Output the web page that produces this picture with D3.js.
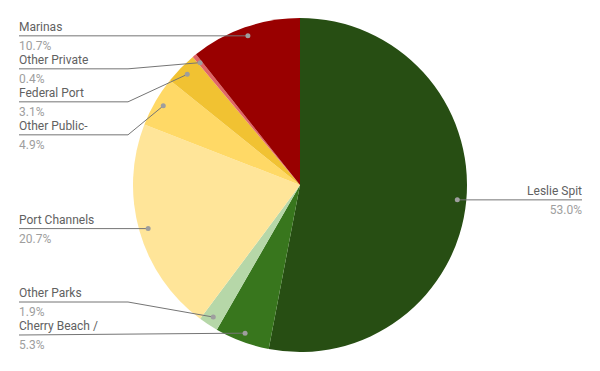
<!DOCTYPE html>
<html>
<head>
<meta charset="utf-8">
<script src="https://cdn.jsdelivr.net/npm/d3@7"></script>
<style>
  body { margin: 0; background: #fff; }
  svg text { font-family: Roboto, "Noto Sans", sans-serif; font-size: 12px; }
  .name { fill: #616161; }
  .pct { fill: #9e9e9e; }
</style>
</head>
<body>
<div id="chart"></div>
<script>
// slice order clockwise from 12 o'clock
const categories = ["Leslie Spit", "Cherry Beach /", "Other Parks", "Port Channels", "Other Public-", "Federal Port", "Other Private", "Marinas"];
const shares = [53.0, 5.3, 1.9, 20.7, 4.9, 3.1, 0.4, 10.7];
const pctLabels = ["53.0%", "5.3%", "1.9%", "20.7%", "4.9%", "3.1%", "0.4%", "10.7%"];
const colors = ["#274e13", "#38761d", "#b6d7a8", "#ffe599", "#ffd966", "#f1c232", "#e06666", "#990000"];

const width = 600, height = 371;
const cx = 300, cy = 185, radius = 167;
const dotRadius = 158;
const labelGap = 33;
const leftX = 19, elbowX = 128, rightX = 582;

const data = categories.map((c, i) => ({ name: c, value: shares[i], pct: pctLabels[i], color: colors[i] }));

const svg = d3.select("#chart").append("svg")
  .attr("width", width)
  .attr("height", height);

const g = svg.append("g").attr("transform", `translate(${cx},${cy})`);

const pie = d3.pie().sort(null).value(d => d.value);
const arcs = pie(data);
const arc = d3.arc().innerRadius(0).outerRadius(radius);

g.selectAll("path.slice")
  .data(arcs)
  .join("path")
  .attr("class", "slice")
  .attr("d", arc)
  .attr("fill", d => d.data.color);

// anchor point for each leader line
arcs.forEach(a => {
  const mid = (a.startAngle + a.endAngle) / 2;
  a.dotX = cx + Math.sin(mid) * dotRadius;
  a.dotY = cy - Math.cos(mid) * dotRadius;
  a.side = mid < Math.PI ? "right" : "left";
  a.lineY = a.dotY;
});

// spread labels on the left so they don't overlap
const left = arcs.filter(a => a.side === "left").sort((a, b) => a.dotY - b.dotY);
for (let i = 1; i < left.length; i++) {
  left[i].lineY = Math.max(left[i].lineY, left[i - 1].lineY + labelGap);
}
const maxY = 335;
for (let i = left.length - 1; i >= 0; i--) {
  const limit = i === left.length - 1 ? maxY : left[i + 1].lineY - labelGap;
  left[i].lineY = Math.min(left[i].lineY, limit);
}

const labels = svg.append("g");

arcs.forEach(a => {
  let pts;
  if (a.side === "left") {
    pts = Math.abs(a.lineY - a.dotY) < 2
      ? [[leftX, a.lineY], [a.dotX, a.dotY]]
      : [[leftX, a.lineY], [elbowX, a.lineY], [a.dotX, a.dotY]];
  } else {
    pts = [[a.dotX, a.dotY], [rightX, a.dotY]];
  }
  labels.append("path")
    .attr("d", d3.line()(pts))
    .attr("fill", "none")
    .attr("stroke", "#757575")
    .attr("stroke-width", 1);

  labels.append("circle")
    .attr("cx", a.dotX)
    .attr("cy", a.dotY)
    .attr("r", 2.5)
    .attr("fill", "#9e9e9e");

  const tx = a.side === "left" ? leftX : rightX;
  const anchor = a.side === "left" ? "start" : "end";
  labels.append("text")
    .attr("class", "name")
    .attr("x", tx)
    .attr("y", a.lineY - 5)
    .attr("text-anchor", anchor)
    .text(a.data.name);
  labels.append("text")
    .attr("class", "pct")
    .attr("x", tx)
    .attr("y", a.lineY + 14)
    .attr("text-anchor", anchor)
    .text(a.data.pct);
});
</script>
</body>
</html>
